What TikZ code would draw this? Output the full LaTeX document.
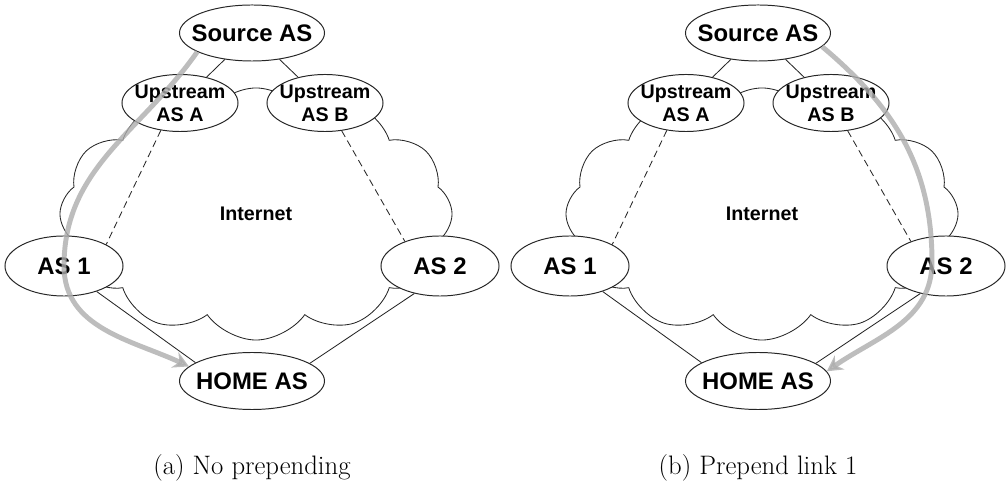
\documentclass[tikz,border=0pt]{standalone}
\usepackage{fontspec}
\newfontfamily\arial{Liberation Sans}
\usetikzlibrary{shapes.geometric,shapes.symbols,arrows.meta}

\begin{document}
\begin{tikzpicture}[x=0.025cm,y=0.025cm,
    asnode/.style={ellipse,draw=black!85,line width=0.7pt,fill=white,
      inner xsep=-0.5cm,inner ysep=-0.3cm,
      font=\arial\bfseries\fontsize{17}{20}\selectfont},
    upnode/.style={asnode,minimum width=2.9cm,minimum height=1.425cm,align=center,
      font=\arial\bfseries\fontsize{14}{16.5}\selectfont},
    lien/.style={draw=black!85,line width=0.6pt},
    tirets/.style={lien,dash pattern=on 5pt off 3pt},
    route/.style={line width=3.5pt,draw=black!32,opacity=.8,
      -{Stealth[length=11pt,width=12pt]}}]

  % cadre de l'image
  \useasboundingbox (0,0) rectangle (1006,-484);

  % les deux scenarios, decales de 506
  \foreach \dx/\s/\legende in {0/a/No prepending,506/b/Prepend link 1} {
    % le nuage Internet
    \node[cloud,draw=black!85,line width=0.6pt,cloud puffs=12,cloud puff arc=110,
      minimum width=9.8cm,minimum height=6.3cm,
      font=\arial\bfseries\fontsize{14}{16}\selectfont]
      (net\s) at (256+\dx,-214) {Internet};

    % les AS
    \node[asnode,minimum width=3.625cm,minimum height=1.4cm] (src\s) at (252+\dx,-33) {Source AS};
    \node[upnode] (upA\s) at (180+\dx,-103) {Upstream\\AS A};
    \node[upnode] (upB\s) at (325+\dx,-103) {Upstream\\AS B};
    \node[asnode,minimum width=2.95cm,minimum height=1.5cm] (as1\s) at (64+\dx,-266) {AS 1};
    \node[asnode,minimum width=2.95cm,minimum height=1.5cm] (as2\s) at (440+\dx,-266) {AS 2};
    \node[asnode,minimum width=3.625cm,minimum height=1.425cm] (home\s) at (252+\dx,-381) {HOME AS};

    % les liens
    \draw[lien] (src\s) -- (upA\s);
    \draw[lien] (src\s) -- (upB\s);
    \draw[tirets] (upA\s.235) -- (as1\s.27);
    \draw[tirets] (upB\s.301) -- (as2\s.145);
    \draw[lien] (as1\s.-38) -- (home\s.162);
    \draw[lien] (as2\s.227) -- (home\s.17);

    % la legende
    \node[font=\fontsize{19}{22}\selectfont] (leg\s) at (252+\dx,-468) {(\s) \legende};
  }

  % chemin choisi sans prepending
  \draw[route] (srca.199) to[out=235,in=90] (as1a.center) to[out=270,in=155] (homea.167);

  % chemin choisi avec prepending
  \coordinate (virage) at (932,-262);
  \draw[route] (srcb.348) to[out=-40,in=90] (virage) to[out=-90,in=35] (homeb.8);
\end{tikzpicture}
\end{document}
